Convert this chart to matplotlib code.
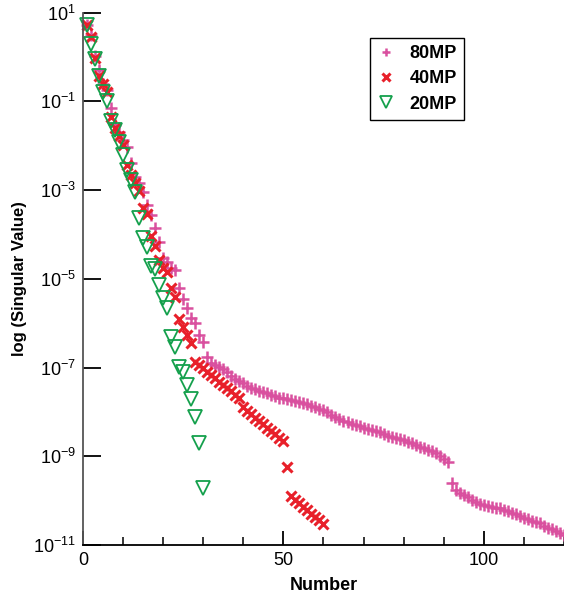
import numpy as np
import matplotlib
matplotlib.use("Agg")
import matplotlib.pyplot as plt
from matplotlib.ticker import FixedLocator, MultipleLocator

plt.rcParams['font.family'] = ['Liberation Sans', 'DejaVu Sans']
plt.rcParams['mathtext.default'] = 'regular'

# log10 of singular values
log_80mp = [0.71, 0.49, 0.03, -0.30, -0.60, -0.75, -1.14, -1.54, -1.68, -1.88,
            -2.04, -2.40, -2.71, -2.83, -3.05, -3.34, -3.57, -3.86, -4.18, -4.54,
            -4.63, -4.76, -4.81, -5.21, -5.46, -5.66, -5.89, -6.00, -6.27, -6.43,
            -6.77, -6.90, -6.95, -6.99, -7.04, -7.10, -7.19, -7.26, -7.31, -7.35,
            -7.42, -7.46, -7.49, -7.53, -7.55, -7.58, -7.62, -7.64, -7.69, -7.69,
            -7.71, -7.73, -7.76, -7.78, -7.80, -7.82, -7.87, -7.89, -7.94, -7.96,
            -8.00, -8.07, -8.12, -8.16, -8.21, -8.23, -8.28, -8.30, -8.32, -8.37,
            -8.39, -8.41, -8.43, -8.46, -8.50, -8.55, -8.57, -8.59, -8.61, -8.64,
            -8.68, -8.70, -8.75, -8.79, -8.82, -8.86, -8.88, -8.93, -9.00, -9.06,
            -9.13, -9.60, -9.76, -9.83, -9.87, -9.92, -9.99, -10.03, -10.08, -10.10,
            -10.12, -10.14, -10.17, -10.17, -10.21, -10.23, -10.28, -10.30, -10.35, -10.39,
            -10.41, -10.46, -10.48, -10.50, -10.57, -10.62, -10.64, -10.68, -10.73, -10.77]

log_40mp = [0.71, 0.44, -0.03, -0.42, -0.60, -0.80, -1.36, -1.59, -1.77, -1.99,
            -2.44, -2.67, -2.85, -3.01, -3.41, -3.55, -4.04, -4.27, -4.58, -4.76,
            -4.85, -5.21, -5.42, -5.91, -6.09, -6.27, -6.45, -6.88, -6.95, -7.01,
            -7.10, -7.17, -7.24, -7.33, -7.40, -7.46, -7.53, -7.62, -7.69, -7.89,
            -7.98, -8.05, -8.14, -8.21, -8.28, -8.37, -8.43, -8.50, -8.59, -8.66,
            -9.24, -9.90, -9.99, -10.05, -10.14, -10.21, -10.30, -10.37, -10.44, -10.53]

log_20mp = [0.71, 0.30, -0.05, -0.44, -0.80, -1.00, -1.45, -1.65, -1.92, -2.20,
            -2.55, -2.78, -3.04, -3.62, -4.09, -4.28, -4.70, -4.78, -5.14, -5.44,
            -5.65, -6.31, -6.53, -6.98, -7.10, -7.40, -7.70, -8.12, -8.70, -9.72]

n_80 = np.arange(1, len(log_80mp) + 1)
n_40 = np.arange(1, len(log_40mp) + 1)
n_20 = np.arange(1, len(log_20mp) + 1)

fig = plt.figure(figsize=(5.64, 5.99), dpi=100)
ax = fig.add_axes([0.147, 0.09, 0.853, 0.889])

ax.semilogy(n_80, 10.0 ** np.array(log_80mp), linestyle='none', marker='+',
            ms=8, mew=1.8, color='#d9509f', label='80MP', clip_on=False)
ax.semilogy(n_40, 10.0 ** np.array(log_40mp), linestyle='none', marker='x',
            ms=7.5, mew=2.2, color='#e8202a', label='40MP', clip_on=False)
ax.semilogy(n_20, 10.0 ** np.array(log_20mp), linestyle='none', marker='v',
            ms=10.5, mew=1.3, mfc='none', mec='#14a04c', label='20MP', clip_on=False)

ax.set_xlim(0, 120)
ax.set_ylim(1e-11, 1e1)

ax.spines['top'].set_visible(False)
ax.spines['right'].set_visible(False)
ax.spines['left'].set_color('#555555')
ax.spines['left'].set_linewidth(1.3)
ax.spines['bottom'].set_linewidth(1.3)

yt = [1e1, 1e-1, 1e-3, 1e-5, 1e-7, 1e-9, 1e-11]
ax.yaxis.set_major_locator(FixedLocator(yt))
ax.yaxis.set_minor_locator(FixedLocator([]))
ax.set_yticklabels(['$10^{1}$', '$10^{-1}$', '$10^{-3}$', '$10^{-5}$',
                    '$10^{-7}$', '$10^{-9}$', '$10^{-11}$'])
ax.xaxis.set_major_locator(FixedLocator([0, 50, 100]))
ax.xaxis.set_minor_locator(MultipleLocator(10))

ax.tick_params(which='major', direction='in', length=10, width=1.3, labelsize=13, pad=5)
ax.tick_params(which='minor', direction='in', length=6, width=1.1)
ax.tick_params(axis='y', which='major', length=13)

ax.set_xlabel('Number', fontsize=13, fontweight='bold', labelpad=6)
ax.set_ylabel('log (Singular Value)', fontsize=12, fontweight='bold', labelpad=4)

leg = ax.legend(loc='upper left', bbox_to_anchor=(0.597, 0.952), borderaxespad=0,
                fancybox=False, edgecolor='black', framealpha=1,
                handletextpad=0.8, borderpad=0.4, labelspacing=0.45,
                handlelength=1.0, markerscale=0.8,
                prop={'weight': 'bold', 'size': 13})
leg.get_frame().set_linewidth(1.0)

fig.savefig('out.png', dpi=100)
